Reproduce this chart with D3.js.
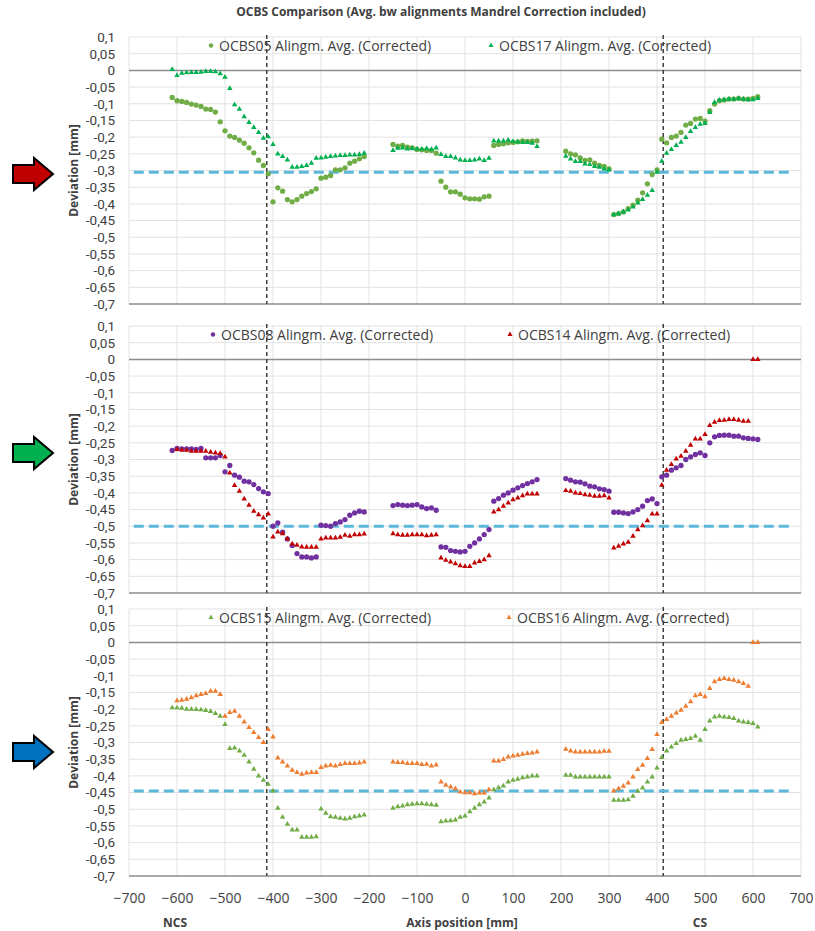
<!DOCTYPE html>
<html>
<head>
<meta charset="utf-8">
<script src="https://cdn.jsdelivr.net/npm/d3@7"></script>
<style>
  body { margin: 0; background: #fff; }
  text { font-family: "Open Sans", sans-serif; }
</style>
</head>
<body>
<svg id="chart" width="815" height="931"></svg>
<script>
// Axis positions [mm] of the measurement points (shared by every series)
const xPositions = [
  -610, -600, -590, -580, -570, -560, -550, -540, -530, -520, -510, -500, -490, -480, -470, -460, -450, -440, -430, -420, -410,
  -400, -390, -380, -370, -360, -350, -340, -330, -320, -310, -300, -290, -280, -270, -260, -250, -240, -230, -220, -210,
  -150, -140, -130, -120, -110, -100, -90, -80, -70, -60,
  -50, -40, -30, -20, -10, 0, 10, 20, 30, 40, 50,
  60, 70, 80, 90, 100, 110, 120, 130, 140, 150,
  210, 220, 230, 240, 250, 260, 270, 280, 290, 300,
  310, 320, 330, 340, 350, 360, 370, 380, 390, 400,
  410, 420, 430, 440, 450, 460, 470, 480, 490, 500,
  510, 520, 530, 540, 550, 560, 570, 580, 590, 600, 610
];

// Deviation [mm] per series, same order as xPositions (null = no point)
const ocbs05 = [
  -0.081, -0.091, -0.093, -0.096, -0.101, -0.104, -0.108, -0.116, -0.117, -0.125, -0.154, -0.181, -0.197, -0.201, -0.209, -0.218, -0.232, -0.247, -0.269, -0.285, -0.310,
  -0.394, -0.352, -0.362, -0.387, -0.394, -0.387, -0.377, -0.369, -0.363, -0.355, -0.323, -0.320, -0.315, -0.298, -0.298, -0.292, -0.278, -0.272, -0.265, -0.258,
  -0.222, -0.227, -0.225, -0.230, -0.232, -0.237, -0.238, -0.240, -0.240, -0.248,
  -0.332, -0.350, -0.364, -0.364, -0.371, -0.382, -0.385, -0.385, -0.386, -0.379, -0.377,
  -0.225, -0.222, -0.220, -0.217, -0.216, -0.214, -0.211, -0.213, -0.212, -0.211,
  -0.242, -0.250, -0.253, -0.262, -0.270, -0.268, -0.278, -0.285, -0.288, -0.295,
  -0.432, -0.429, -0.424, -0.414, -0.404, -0.389, -0.367, -0.340, -0.312, -0.298,
  -0.206, -0.217, -0.201, -0.197, -0.186, -0.164, -0.159, -0.146, -0.144, -0.152,
  -0.121, -0.101, -0.091, -0.089, -0.086, -0.086, -0.084, -0.086, -0.086, -0.084, -0.079
];
const ocbs17 = [
  0.003, -0.015, -0.008, -0.007, -0.006, -0.006, -0.005, -0.003, -0.003, -0.004, -0.010, -0.020, -0.054, -0.103, -0.116, -0.139, -0.156, -0.171, -0.186, -0.203, -0.199,
  -0.222, -0.250, -0.258, -0.268, -0.290, -0.290, -0.288, -0.285, -0.278, -0.263, -0.262, -0.260, -0.258, -0.256, -0.255, -0.255, -0.253, -0.253, -0.252, -0.248,
  -0.240, -0.233, -0.232, -0.235, -0.234, -0.235, -0.236, -0.234, -0.237, -0.232,
  -0.252, -0.258, -0.258, -0.262, -0.268, -0.270, -0.270, -0.268, -0.265, -0.270, -0.263,
  -0.211, -0.211, -0.211, -0.209, -0.213, -0.214, -0.216, -0.216, -0.218, -0.228,
  -0.257, -0.265, -0.273, -0.273, -0.280, -0.282, -0.288, -0.290, -0.295, -0.298,
  -0.432, -0.429, -0.424, -0.418, -0.409, -0.397, -0.387, -0.374, -0.360, -0.305,
  -0.272, -0.248, -0.237, -0.225, -0.215, -0.201, -0.183, -0.171, -0.161, -0.159,
  -0.126, -0.096, -0.089, -0.088, -0.086, -0.086, -0.084, -0.086, -0.088, -0.088, -0.084
];
const ocbs08 = [
  -0.273, -0.267, -0.268, -0.268, -0.268, -0.270, -0.267, -0.295, -0.295, -0.295, -0.288, -0.337, -0.318, -0.347, -0.353, -0.365, -0.367, -0.375, -0.387, -0.397, -0.402,
  -0.500, -0.490, -0.518, -0.538, -0.558, -0.582, -0.592, -0.592, -0.595, -0.592, -0.497, -0.498, -0.500, -0.492, -0.487, -0.480, -0.467, -0.460, -0.455, -0.457,
  -0.438, -0.435, -0.437, -0.438, -0.437, -0.435, -0.442, -0.447, -0.445, -0.452,
  -0.562, -0.563, -0.573, -0.575, -0.577, -0.575, -0.560, -0.550, -0.538, -0.525, -0.510,
  -0.425, -0.417, -0.407, -0.400, -0.392, -0.385, -0.378, -0.372, -0.367, -0.360,
  -0.357, -0.362, -0.367, -0.368, -0.373, -0.380, -0.382, -0.388, -0.390, -0.395,
  -0.458, -0.458, -0.460, -0.462, -0.457, -0.450, -0.440, -0.423, -0.418, -0.432,
  -0.352, -0.347, -0.332, -0.325, -0.318, -0.300, -0.292, -0.285, -0.280, -0.288,
  -0.250, -0.232, -0.228, -0.227, -0.227, -0.230, -0.230, -0.235, -0.237, -0.238, -0.240
];
const ocbs14 = [
  null, -0.270, -0.272, -0.272, -0.275, -0.275, -0.275, -0.275, -0.278, -0.280, -0.282, -0.292, -0.340, -0.378, -0.395, -0.418, -0.437, -0.455, -0.465, -0.475, -0.463,
  -0.532, -0.517, -0.522, -0.538, -0.553, -0.557, -0.562, -0.563, -0.563, -0.563, -0.538, -0.535, -0.535, -0.535, -0.533, -0.527, -0.530, -0.525, -0.525, -0.523,
  -0.522, -0.525, -0.527, -0.527, -0.525, -0.525, -0.525, -0.528, -0.527, -0.525,
  -0.595, -0.602, -0.607, -0.612, -0.618, -0.620, -0.620, -0.610, -0.605, -0.600, -0.588,
  -0.457, -0.450, -0.440, -0.430, -0.420, -0.415, -0.408, -0.403, -0.403, -0.403,
  -0.393, -0.395, -0.400, -0.402, -0.405, -0.407, -0.410, -0.410, -0.408, -0.415,
  -0.565, -0.560, -0.553, -0.548, -0.530, -0.510, -0.498, -0.483, -0.463, -0.463,
  -0.377, -0.332, -0.315, -0.298, -0.290, -0.275, -0.257, -0.238, -0.238, -0.225,
  -0.198, -0.188, -0.183, -0.182, -0.180, -0.180, -0.182, -0.185, -0.185, 0, 0
];
const ocbs15 = [
  -0.196, -0.196, -0.197, -0.200, -0.200, -0.201, -0.202, -0.204, -0.207, -0.213, -0.221, -0.246, -0.318, -0.316, -0.325, -0.338, -0.358, -0.380, -0.400, -0.413, -0.425,
  -0.445, -0.497, -0.524, -0.545, -0.562, -0.562, -0.584, -0.584, -0.584, -0.582, -0.499, -0.512, -0.522, -0.524, -0.527, -0.529, -0.527, -0.522, -0.520, -0.517,
  -0.497, -0.492, -0.490, -0.486, -0.485, -0.483, -0.483, -0.485, -0.486, -0.488,
  -0.537, -0.535, -0.534, -0.532, -0.524, -0.520, -0.507, -0.497, -0.486, -0.478, -0.466,
  -0.441, -0.435, -0.430, -0.418, -0.413, -0.410, -0.405, -0.403, -0.400, -0.400,
  -0.398, -0.398, -0.403, -0.403, -0.403, -0.403, -0.403, -0.403, -0.403, -0.403,
  -0.473, -0.473, -0.473, -0.471, -0.461, -0.446, -0.436, -0.418, -0.403, -0.376,
  -0.345, -0.325, -0.313, -0.303, -0.293, -0.291, -0.288, -0.281, -0.293, -0.261,
  -0.235, -0.223, -0.221, -0.223, -0.225, -0.228, -0.235, -0.238, -0.240, -0.243, -0.253
];
const ocbs16 = [
  null, -0.175, -0.173, -0.170, -0.166, -0.160, -0.156, -0.153, -0.146, -0.146, -0.156, -0.221, -0.210, -0.206, -0.221, -0.238, -0.255, -0.270, -0.285, -0.300, -0.261,
  -0.283, -0.346, -0.358, -0.370, -0.383, -0.390, -0.395, -0.391, -0.390, -0.390, -0.375, -0.370, -0.368, -0.370, -0.366, -0.363, -0.363, -0.363, -0.361, -0.358,
  -0.358, -0.360, -0.360, -0.363, -0.363, -0.363, -0.366, -0.365, -0.370, -0.367,
  -0.418, -0.428, -0.433, -0.438, -0.448, -0.450, -0.450, -0.453, -0.451, -0.451, -0.441,
  -0.355, -0.355, -0.351, -0.343, -0.340, -0.338, -0.335, -0.333, -0.331, -0.328,
  -0.320, -0.325, -0.328, -0.328, -0.328, -0.328, -0.328, -0.328, -0.326, -0.326,
  -0.445, -0.438, -0.431, -0.421, -0.403, -0.381, -0.368, -0.348, -0.321, -0.276,
  -0.240, -0.231, -0.221, -0.211, -0.203, -0.191, -0.178, -0.160, -0.156, -0.163,
  -0.138, -0.118, -0.111, -0.108, -0.111, -0.113, -0.118, -0.123, -0.131, 0, 0
];

// reference (light blue dashed) level per panel and span of that line
const refLevels = [-0.305, -0.5, -0.445];
const refSpan = [-690, 680];
// dashed black markers for the NCS / CS ends
const endMarks = [-413, 413];

const yTicks = [0.1, 0.05, 0, -0.05, -0.1, -0.15, -0.2, -0.25, -0.3, -0.35, -0.4, -0.45, -0.5, -0.55, -0.6, -0.65, -0.7];
const xTicks = [-700, -600, -500, -400, -300, -200, -100, 0, 100, 200, 300, 400, 500, 600, 700];

const panels = [
  { top: 37, ref: refLevels[0], arrow: "#C00000", arrowY: 174, legendX: [211, 491],
    series: [
      { name: "OCBS05 Alingm. Avg. (Corrected)", values: ocbs05, shape: "circle", color: "#70AD47" },
      { name: "OCBS17 Alingm. Avg. (Corrected)", values: ocbs17, shape: "triangle", color: "#00B050" }
    ] },
  { top: 326, ref: refLevels[1], arrow: "#00B050", arrowY: 453, legendX: [213, 510],
    series: [
      { name: "OCBS08 Alingm. Avg. (Corrected)", values: ocbs08, shape: "circle", color: "#7030A0" },
      { name: "OCBS14 Alingm. Avg. (Corrected)", values: ocbs14, shape: "triangle", color: "#C00000" }
    ] },
  { top: 609, ref: refLevels[2], arrow: "#0070C0", arrowY: 752, legendX: [211, 509],
    series: [
      { name: "OCBS15 Alingm. Avg. (Corrected)", values: ocbs15, shape: "triangle", color: "#70AD47" },
      { name: "OCBS16 Alingm. Avg. (Corrected)", values: ocbs16, shape: "triangle", color: "#ED7D31" }
    ] }
];

const panelHeight = 267;
const svg = d3.select("#chart");

const x = d3.scaleLinear().domain([-700, 700]).range([129, 801]);
const fmt = d => d === 0 ? "0" : String(+d.toFixed(2)).replace(".", ",");

const circle = d3.symbol().type(d3.symbolCircle).size(22);
const triangle = d3.symbol().type(d3.symbolTriangle).size(13);

// title
svg.append("text")
  .attr("x", 441)
  .attr("y", 16)
  .attr("text-anchor", "middle")
  .style("font-size", "12px")
  .style("font-weight", "bold")
  .attr("fill", "#404040")
  .text("OCBS Comparison (Avg. bw alignments Mandrel Correction included)");

panels.forEach((p, pi) => {
  const y = d3.scaleLinear().domain([-0.7, 0.1]).range([p.top + panelHeight, p.top]);
  const g = svg.append("g");

  // horizontal gridlines
  g.selectAll(".hgrid")
    .data(yTicks.filter(t => t !== 0 && t !== -0.7))
    .enter().append("line")
    .attr("x1", x(-700)).attr("x2", x(700))
    .attr("y1", d => y(d)).attr("y2", d => y(d))
    .attr("stroke", "#e2e2e2").attr("stroke-width", 1);

  // vertical gridlines
  g.selectAll(".vgrid")
    .data(xTicks)
    .enter().append("line")
    .attr("x1", d => x(d)).attr("x2", d => x(d))
    .attr("y1", y(0.1)).attr("y2", y(-0.7))
    .attr("stroke", "#e2e2e2").attr("stroke-width", 1);

  // zero line and bottom axis line
  g.append("line")
    .attr("x1", x(-700)).attr("x2", x(700))
    .attr("y1", y(0)).attr("y2", y(0))
    .attr("stroke", "#8c8c8c").attr("stroke-width", 1.5);
  g.append("line")
    .attr("x1", x(-700)).attr("x2", x(700))
    .attr("y1", y(-0.7)).attr("y2", y(-0.7))
    .attr("stroke", "#8c8c8c").attr("stroke-width", 1.5);

  // y axis labels (Roboto keeps the 17 labels from crowding each other)
  const yAxis = g.append("g")
    .attr("transform", `translate(${x(-700)},0)`)
    .call(d3.axisLeft(y).tickValues(yTicks).tickSize(0).tickPadding(14).tickFormat(fmt));
  yAxis.select(".domain").remove();
  yAxis.selectAll("text")
    .attr("fill", "#404040")
    .style("font-family", "Roboto, sans-serif")
    .style("font-size", "13.5px");

  g.append("text")
    .attr("transform", `translate(78,${p.top + panelHeight / 2}) rotate(-90)`)
    .attr("text-anchor", "middle")
    .style("font-size", "12px")
    .style("font-weight", "bold")
    .attr("fill", "#404040")
    .text("Deviation [mm]");

  // NCS / CS dashed markers
  g.selectAll(".endmark")
    .data(endMarks)
    .enter().append("line")
    .attr("x1", d => x(d)).attr("x2", d => x(d))
    .attr("y1", y(0.1) - 2).attr("y2", y(-0.7))
    .attr("stroke", "#404040").attr("stroke-width", 1.5)
    .attr("stroke-dasharray", "4,3");

  // reference level
  g.append("path")
    .datum(refSpan)
    .attr("d", d3.line().x(d => x(d)).y(() => y(p.ref)))
    .attr("fill", "none")
    .attr("stroke", "#5BB8DA").attr("stroke-width", 3)
    .attr("stroke-dasharray", "10,5");

  // points
  p.series.forEach(s => {
    const pts = xPositions.map((xv, i) => [xv, s.values[i]]).filter(d => d[1] !== null);
    g.selectAll(null)
      .data(pts)
      .enter().append("path")
      .attr("transform", d => `translate(${x(d[0])},${y(d[1])})`)
      .attr("d", s.shape === "circle" ? circle : triangle)
      .attr("fill", s.color);
  });

  // legend
  p.series.forEach((s, si) => {
    const lx = p.legendX[si];
    const ly = p.top + 8.5;
    g.append("path")
      .attr("transform", `translate(${lx},${ly})`)
      .attr("d", s.shape === "circle" ? d3.symbol().type(d3.symbolCircle).size(16)() : d3.symbol().type(d3.symbolTriangle).size(11)())
      .attr("fill", s.color);
    g.append("text")
      .attr("x", lx + 8)
      .attr("y", p.top + 13.5)
      .style("font-size", "14px")
      .attr("fill", "#404040")
      .text(s.name);
  });

  // arrow on the left
  const cy = p.arrowY;
  const arrowPts = [[13, cy - 9], [34, cy - 9], [34, cy - 16], [53, cy], [34, cy + 16], [34, cy + 9], [13, cy + 9]];
  svg.append("polygon")
    .attr("points", arrowPts.map(d => d.join(",")).join(" "))
    .attr("fill", p.arrow)
    .attr("stroke", "#000")
    .attr("stroke-width", 2)
    .attr("stroke-linejoin", "miter");

  // x axis on the last panel
  if (pi === panels.length - 1) {
    const xAxis = svg.append("g")
      .attr("transform", `translate(0,${p.top + panelHeight})`)
      .call(d3.axisBottom(x).tickValues(xTicks).tickSize(0).tickPadding(17));
    xAxis.select(".domain").remove();
    xAxis.selectAll("text")
      .attr("fill", "#404040")
      .style("font-family", "'Open Sans', sans-serif")
      .style("font-size", "14px");
  }
});

// bottom labels
[["NCS", 175], ["Axis position [mm]", 462], ["CS", 700]].forEach(([t, px]) => {
  svg.append("text")
    .attr("x", px)
    .attr("y", 927)
    .attr("text-anchor", "middle")
    .style("font-size", "12px")
    .style("font-weight", "bold")
    .attr("fill", "#404040")
    .text(t);
});
</script>
</body>
</html>
